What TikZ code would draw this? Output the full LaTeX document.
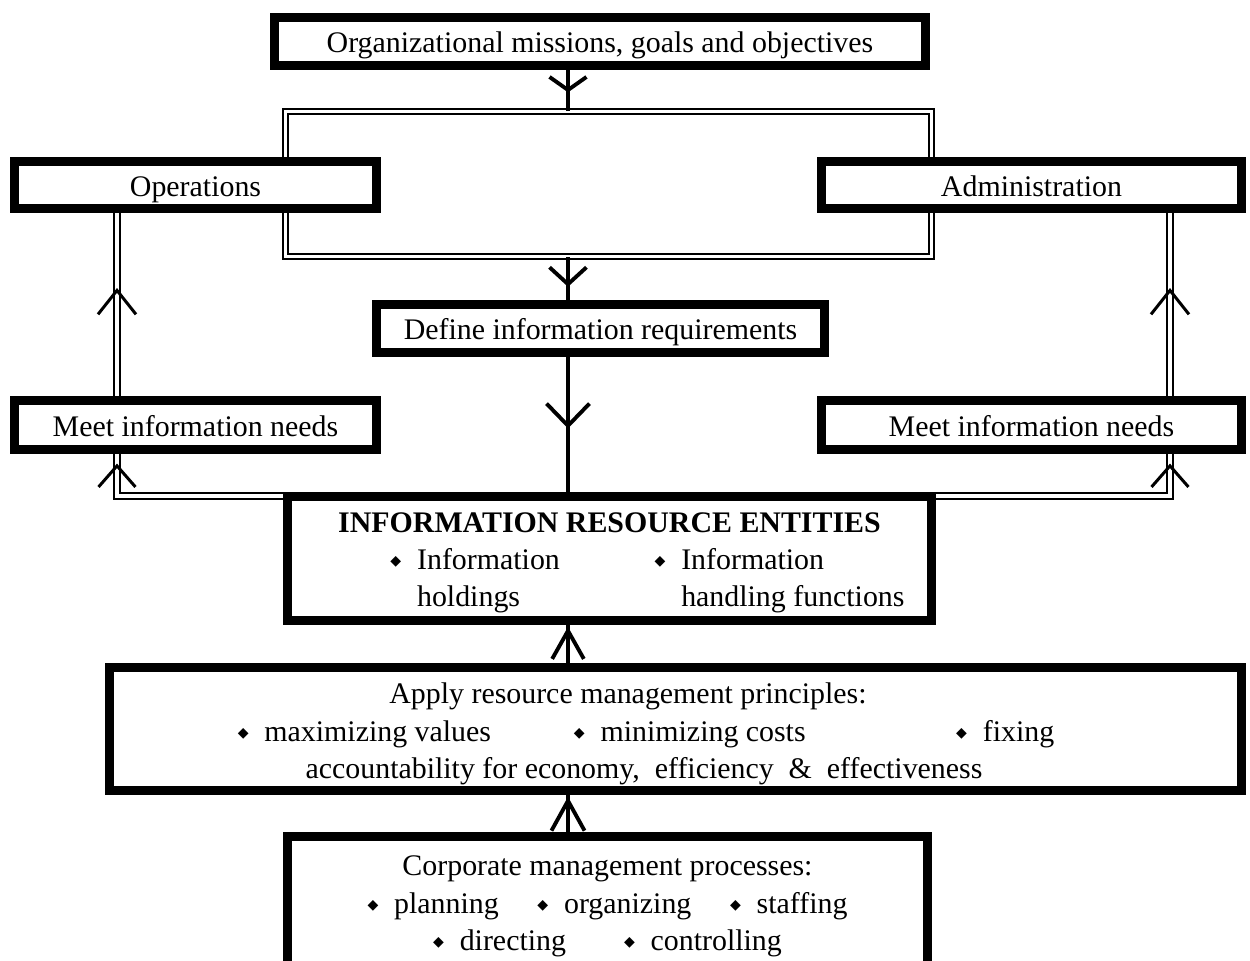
\documentclass[tikz,border=0pt]{standalone}
\usepackage{fontspec}
\setmainfont{Liberation Serif}
\newfontfamily\symfont{DejaVu Sans}
\usetikzlibrary{arrows.meta, decorations.markings}
\newcommand{\bul}{\raisebox{0.25ex}{\symfont\fontsize{4}{5}\selectfont ◆}\hspace{4.5pt}}

\begin{document}
\begin{tikzpicture}[x=0.01cm, y=-0.01cm,
  every node/.style={font=\fontsize{8.5}{10.6}\selectfont},
  box/.style={draw, line width=2.5pt, fill=white, inner sep=0pt, align=center},
  oneline/.style={text height=7.2pt, text depth=0.8pt},
  dline/.style={double, line width=0.55pt, double distance=1pt},
  stem/.style={line width=1.2pt},
  tipat/.style n args={4}{decoration={markings, mark=at position #1 with {\arrow{Straight Barb[length=#2, width=#3, line width=#4]}}}, postaction={decorate}}]
  \useasboundingbox (0,0) rectangle (1250,961);
  \coordinate (axis) at (568,0);
  \coordinate (busL) at (117,496);
  \coordinate (busR) at (1170,496);
  % frame round the two units, and the lines back up to them
  \node[draw, dline, minimum width=6.46cm, minimum height=1.445cm] (units) at (608.5,184) {};
  \draw[dline] (busL) ++(0,-43) -- (busL) -- (busR) -- ++(0,-43);
  \draw[dline] (117,396) -- (117,213);
  \draw[dline] (1170,396) -- (1170,213);
  % boxes
  \node[box, oneline, minimum width=6.51cm, minimum height=0.48cm] (org) at (600,41.5) {Organizational missions, goals and objectives};
  \node[box, oneline, minimum width=3.62cm, minimum height=0.47cm] (ops) at (195.5,185) {Operations};
  \node[box, oneline, minimum width=4.20cm, minimum height=0.47cm] (adm) at (1031.5,185) {Administration};
  \node[box, oneline, minimum width=4.48cm, minimum height=0.48cm] (define) at (600.5,328.5) {Define information requirements};
  \node[box, oneline, minimum width=3.62cm, minimum height=0.49cm] (meetL) at (195.5,425) {Meet information needs};
  \node[box, oneline, minimum width=4.20cm, minimum height=0.49cm] (meetR) at (1031.5,425) {Meet information needs};
  \node[box, minimum width=6.44cm, minimum height=1.24cm] (ire) at (609.5,558.5) {\rule{0pt}{9.4pt}{\bfseries INFORMATION RESOURCE ENTITIES}\\
    \begin{tabular}[t]{@{\hspace{0.76cm}}p{2.64cm}@{}l@{}}
      \bul Information & \bul Information\\
      \phantom{\bul}holdings & \phantom{\bul}handling functions
    \end{tabular}};
  \node[box, minimum width=11.32cm, minimum height=1.23cm] (apply) at (675.5,729) {};
  \node[align=center, inner sep=0pt] (applytxt) at (646,734) {Apply resource management principles:\hspace*{0.36cm}\\
    \makebox[3.36cm][l]{\bul maximizing values}\makebox[3.82cm][l]{\bul minimizing costs}\bul fixing\\
    accountability for economy,\ \ efficiency \ \&\ \ effectiveness\hspace*{0.04cm}};
  \node[box, minimum width=6.40cm, minimum height=1.40cm] (corp) at (607.5,906.4) {Corporate management processes:\\
    \bul planning\hspace{11pt}\bul organizing\hspace{11pt}\bul staffing\\
    \bul directing\hspace{16.5pt}\bul controlling};
  % connectors
  \draw[stem, tipat={0.55}{3.7pt}{10.5pt}{1.1pt}] (org.south -| axis) -- (units.north -| axis);
  \draw[stem, tipat={0.69}{4.8pt}{10.5pt}{1.1pt}] (units.south -| axis) -- (define.north -| axis);
  \draw[stem, tipat={0.53}{6.3pt}{12.2pt}{1.1pt}] (define.south -| axis) -- (ire.north -| axis);
  \draw[stem, tipat={0.95}{8pt}{9pt}{1.1pt}] (apply.north -| axis) -- (ire.south -| axis);
  \draw[stem, tipat={0.95}{8.5pt}{9.4pt}{1.1pt}] (corp.north -| axis) -- (apply.south -| axis);
  \path[tipat={0.59}{6.8pt}{10.8pt}{0.85pt}] (meetL.north -| busL) -- (ops.south -| busL);
  \path[tipat={0.59}{6.8pt}{10.8pt}{0.85pt}] (meetR.north -| busR) -- (adm.south -| busR);
  \path[tipat={0.77}{6pt}{10.5pt}{0.85pt}] (busL) -- (meetL.south -| busL);
  \path[tipat={0.77}{6pt}{10.5pt}{0.85pt}] (busR) -- (meetR.south -| busR);
\end{tikzpicture}
\end{document}
